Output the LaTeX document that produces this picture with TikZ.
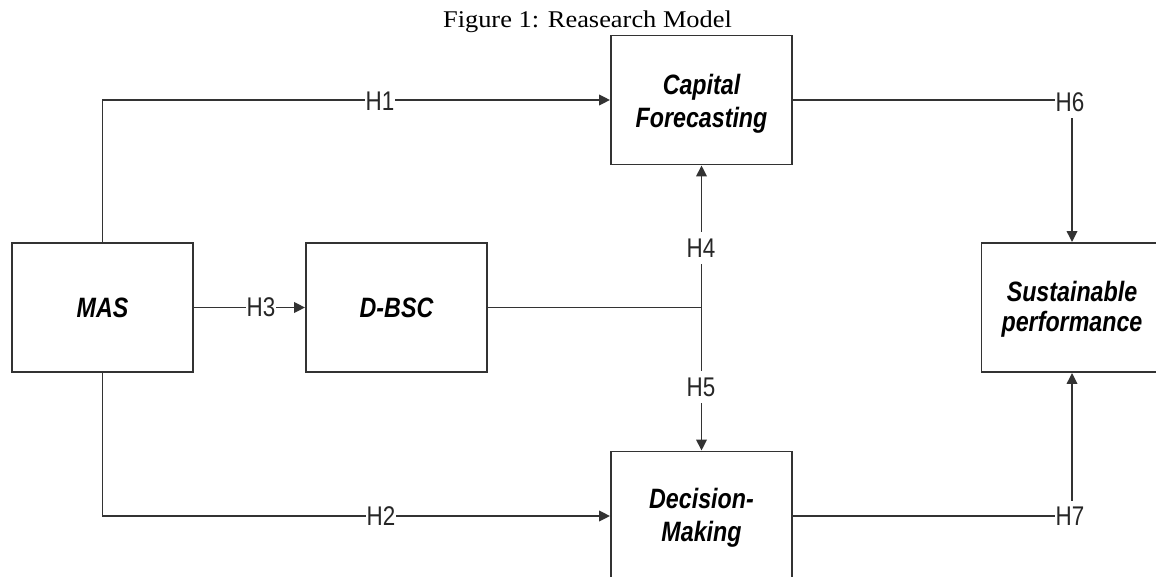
\documentclass[tikz,border=0pt]{standalone}
\usepackage{fontspec}
\setmainfont{Liberation Serif}
\newfontfamily\titlefont[FakeStretch=1.1]{Liberation Serif}
\newfontfamily\narrowsans[FakeStretch=0.83]{Liberation Sans}
\usetikzlibrary{arrows.meta}
\definecolor{linegray}{HTML}{333333}

\begin{document}
\begin{tikzpicture}[x=1pt,y=-1pt,
  box/.style={draw=linegray, line width=1.9pt, minimum width=181pt,
    minimum height=129pt, inner sep=0pt, fill=white},
  boxtext/.style={font=\narrowsans\bfseries\itshape\fontsize{28}{33}\selectfont,
    align=center, inner sep=0pt, text=black},
  hlab/.style={font=\narrowsans\fontsize{27}{27}\selectfont, text=black!85,
    fill=white, inner xsep=0.5pt, inner ysep=0pt},
  vlab/.style={hlab, inner ysep=7pt, inner xsep=3pt},
  conn/.style={draw=linegray, line width=1.8pt},
  arr/.style={conn, -{Triangle[length=11pt,width=10.5pt]}}]

\useasboundingbox (0,0) rectangle (1156,577);
\clip (0,0) rectangle (1156,577);
\fill[white] (0,0) rectangle (1156,577);

% caption
\node[font=\titlefont\fontsize{24}{24}\selectfont, anchor=base, inner sep=0pt]
  (title) at (587.5,28) {Figure 1: Reasearch Model};

% constructs
\node[box] (mas)  at (102.5,307.5) {};
\node[box] (dbsc) at (396.5,307.5) {};
\node[box] (cap)  at (701.5,100)   {};
\node[box] (dec)  at (701.5,516)   {};
\node[box] (sus)  at (1072,307.5)  {};

\node[boxtext] (masT)  at (mas.center)  {MAS};
\node[boxtext] (dbscT) at (dbsc.center) {D-BSC};
\node[boxtext] (capT)  at ([yshift=-3.5pt]cap.center) {Capital\\Forecasting};
\node[boxtext] (decT)  at ([yshift=-2pt]dec.center)   {Decision-\\Making};
\node[boxtext, font=\narrowsans\bfseries\itshape\fontsize{28}{30}\selectfont]
  (susT) at ([yshift=-2pt]sus.center) {Sustainable\\performance};

% paths between constructs
\coordinate (junc) at (cap.south |- dbsc.east);
\draw[arr] (mas.north) |- (cap.west);
\draw[arr] (mas.south) |- (dec.west);
\draw[arr] (mas.east) -- (dbsc.west);
\draw[conn] (dbsc.east) -- (junc);
\draw[arr] (junc) -- (cap.south);
\draw[arr] (junc) -- (dec.north);
\draw[arr] (cap.east) -| (sus.north);
\draw[arr] (dec.east) -| (sus.south);

% hypothesis labels
\node[hlab] (h1) at (380,101) {H1};
\node[hlab] (h2) at (381,516) {H2};
\node[hlab] (h3) at (261,307.5) {H3};
\node[vlab] (h4) at (701,248) {H4};
\node[vlab] (h5) at (701,387) {H5};
\node[hlab, inner ysep=6pt] (h6) at (1070,102) {H6};
\node[hlab, inner ysep=6pt] (h7) at (1070,516) {H7};
\end{tikzpicture}
\end{document}
